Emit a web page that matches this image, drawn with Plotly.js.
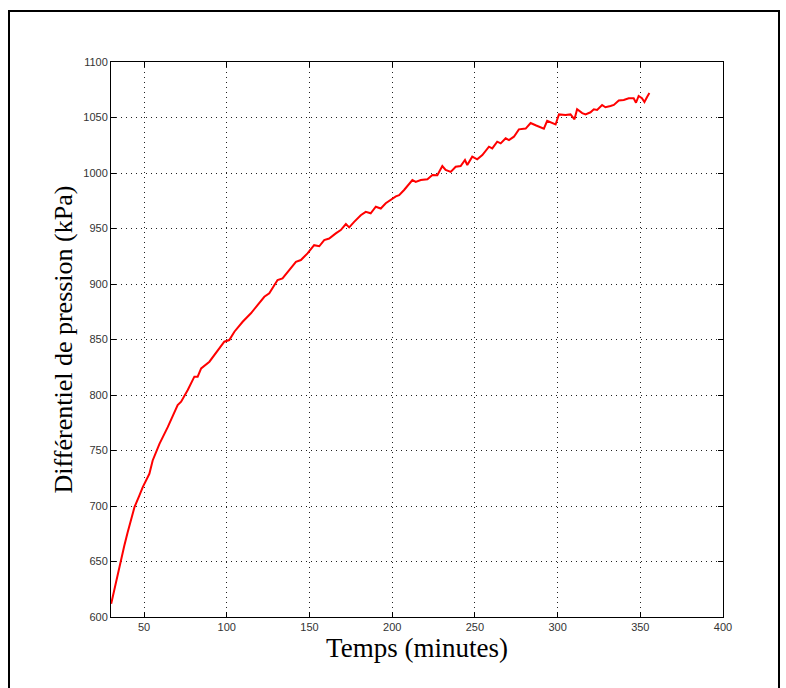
<!DOCTYPE html>
<html>
<head>
<meta charset="utf-8">
<script src="https://cdn.plot.ly/plotly-3.0.1.min.js"></script>
<style>
  html, body { margin: 0; padding: 0; background: #ffffff; }
  #wrap { position: relative; width: 786px; height: 688px; overflow: hidden; }
  #frame { position: absolute; left: 8px; top: 10px; width: 768px; height: 700px;
           border-top: 2px solid #000; border-left: 2px solid #000; border-right: 2px solid #000; pointer-events: none; z-index: 5; }
  #chart { position: absolute; left: 0; top: 0; width: 786px; height: 688px; }
</style>
</head>
<body>
<div id="wrap">
  <div id="chart"></div>
  <div id="frame"></div>
</div>
<script>
// Time (minutes)
const temps = [30.1, 32, 34, 36, 38, 40, 42, 44.2, 47, 49.2, 53.2, 55.2,
  59.3, 64.3, 70.3, 72.4, 76.4, 80.4, 82.4, 84.5, 89.5, 94.5,
  98.5, 101.5, 104.6, 109.6, 114.6, 118.6, 122.7, 125.7, 130.7, 133.7,
  137.8, 141.8, 144.8, 148.8, 152.8, 155.9, 158.9, 161.9, 165.9, 168.9,
  172, 174, 177, 181, 184, 187, 190.1, 193.1, 196.1, 199.2,
  202.2, 204.2, 207.2, 212.2, 214.2, 217.3, 221.3, 224.3, 227.3, 230.3,
  232.3, 235.4, 238.4, 241.4, 244, 245.4, 248.4, 251.4, 254.5, 258.5,
  260.5, 263.5, 265.6, 268.6, 270.6, 273.6, 276.6, 280.7, 283.7, 286.7,
  291.7, 293.7, 296.7, 298.8, 300.8, 304.8, 307.8, 310.2, 311.8, 314.9,
  316.9, 319.9, 321.9, 323.9, 326.9, 328.9, 332, 334, 337, 340,
  343, 346, 347.4, 349, 351, 352.5, 354.1, 355.5];

// Pressure differential (kPa)
const pression = [612, 625, 638, 651, 664, 676, 688, 699, 709, 717, 729, 741,
  756, 771, 791, 794, 804.5, 816.5, 816.5, 824, 830, 840.5,
  848, 849.5, 857, 866, 873.6, 881, 888.5, 891.6, 903.6, 905,
  912.6, 920, 921.6, 927.6, 935, 934, 939.6, 941, 945.6, 948.6,
  954, 951, 956, 962, 965, 963.7, 969.6, 968, 972.7, 976.3,
  979, 980, 984.7, 993.7, 992, 993.7, 994.3, 998.2, 998, 1006.3,
  1002.7, 1001, 1005.6, 1006.3, 1011.7, 1007.2, 1014.7, 1012.3, 1016.2, 1023.7,
  1022.2, 1028.2, 1026.7, 1031.3, 1029.7, 1032.7, 1039.3, 1040, 1045, 1043,
  1040, 1047, 1045, 1043.7, 1052.8, 1052.3, 1052.8, 1048.4, 1057.4, 1054,
  1052.8, 1054.7, 1057.4, 1056.8, 1061.3, 1059.2, 1060.4, 1061.3, 1065.3, 1065.8,
  1067.3, 1067.3, 1063.3, 1069.4, 1067.3, 1064, 1068.5, 1072];

const xTicks = [50, 100, 150, 200, 250, 300, 350, 400];
const yTicks = [600, 650, 700, 750, 800, 850, 900, 950, 1000, 1050, 1100];

const xTitle = 'Temps (minutes)';
const yTitle = 'Différentiel de pression (kPa)';

const tickFont = { family: 'Liberation Sans, Arial, sans-serif', size: 11, color: '#333' };
const titleFont = { family: 'Liberation Serif, Times New Roman, serif', size: 27, color: '#000' };
const yTitleFont = { family: 'Liberation Serif, Times New Roman, serif', size: 26, color: '#000' };

const axisCommon = {
  showline: true, linecolor: '#000', linewidth: 1, mirror: 'allticks',
  ticks: 'inside', ticklen: 5, tickcolor: '#000', tickwidth: 1,
  showgrid: true, gridcolor: '#222', gridwidth: 1, griddash: '1px,4px',
  zeroline: false, tickfont: tickFont, tickmode: 'array'
};

const trace = {
  x: temps, y: pression, type: 'scatter', mode: 'lines',
  line: { color: '#ff0000', width: 2 }, hoverinfo: 'skip'
};

const layout = {
  width: 786, height: 688,
  margin: { l: 111, r: 63, t: 62, b: 71 },
  paper_bgcolor: '#ffffff', plot_bgcolor: '#ffffff',
  showlegend: false,
  xaxis: Object.assign({}, axisCommon, {
    range: [30, 400], tickvals: xTicks, ticktext: xTicks.map(String),
    title: { text: xTitle, font: titleFont, standoff: 2 }
  }),
  yaxis: Object.assign({}, axisCommon, {
    range: [600, 1100], tickvals: yTicks, ticktext: yTicks.map(String),
    title: { text: yTitle, font: yTitleFont, standoff: 3 }
  })
};

Plotly.newPlot('chart', [trace], layout, { staticPlot: true, displayModeBar: false });
</script>
</body>
</html>
